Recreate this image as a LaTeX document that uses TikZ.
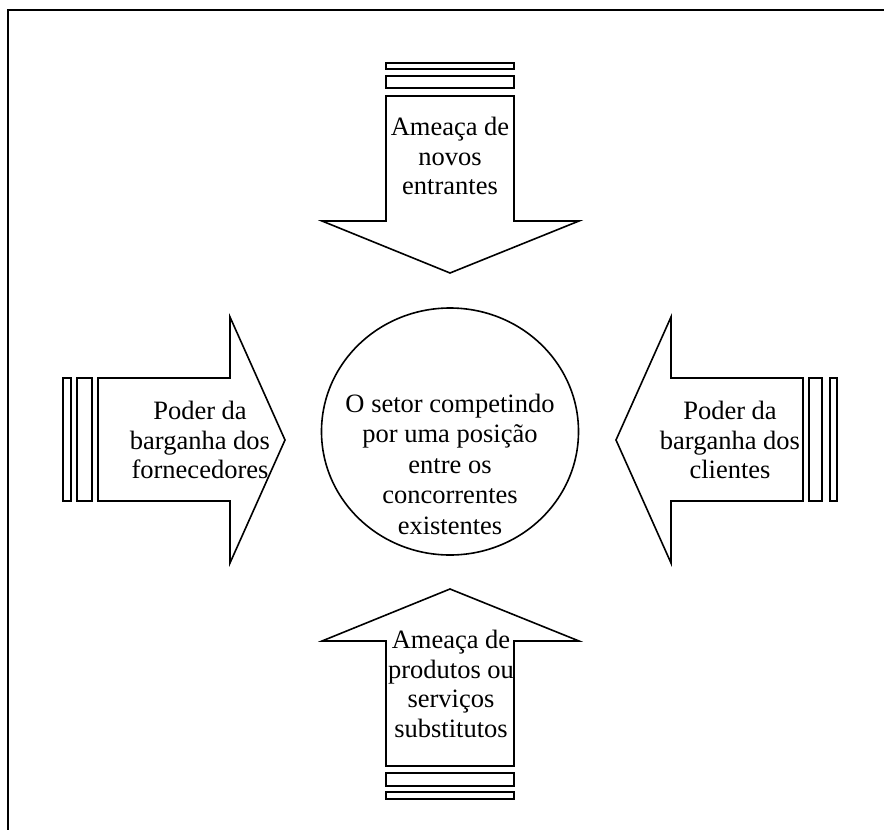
\documentclass[tikz,border=0pt]{standalone}
\usepackage{fontspec}
\setmainfont{Liberation Serif}
\begin{document}
\begin{tikzpicture}[x=1pt,y=-1pt,
  shp/.style={draw=black,line width=1.6pt,line join=miter,fill=white},
  lbl/.style={align=center,inner sep=0pt,font=\fontsize{26.5}{29.5}\selectfont}]
\useasboundingbox (0,0) rectangle (884,830);
% frame
\draw[line width=1.6pt] (8,830) -- (8,10) -- (884,10);
% top arrow
\draw[shp] (386,63) rectangle (514,69);
\draw[shp] (386,76) rectangle (514,88);
\draw[shp] (386,96) -- (514,96) -- (514,221) -- (579,221) -- (450,273) -- (322,221) -- (386,221) -- cycle;
\node[lbl] (top) at (450,156) {Ameaça de\\novos\\entrantes};
% bottom arrow
\draw[shp] (386,792) rectangle (514,799);
\draw[shp] (386,773) rectangle (514,786);
\draw[shp] (386,766) -- (514,766) -- (514,641) -- (579,641) -- (450,589) -- (322,641) -- (386,641) -- cycle;
\node[lbl] (bottom) at (451,684) {Ameaça de\\produtos ou\\serviços\\substitutos};
% left arrow
\draw[shp] (63,378) rectangle (71,501);
\draw[shp] (77,378) rectangle (92,501);
\draw[shp] (98,378) -- (230,378) -- (230,317) -- (285,440) -- (230,563) -- (230,501) -- (98,501) -- cycle;
\node[lbl] (left) at (200,440) {Poder da\\barganha dos\\fornecedores};
% right arrow
\draw[shp] (830,378) rectangle (837,501);
\draw[shp] (809,378) rectangle (822,501);
\draw[shp] (803,378) -- (671,378) -- (671,317) -- (616,440) -- (671,563) -- (671,501) -- (803,501) -- cycle;
\node[lbl] (right) at (730,440) {Poder da\\barganha dos\\clientes};
% center ellipse
\draw[shp] (450,431.5) ellipse [x radius=128.5, y radius=123.5];
\node[lbl,font=\fontsize{26.5}{30.5}\selectfont] (center) at (450,464) {O setor competindo\\por uma posição\\entre os\\concorrentes\\existentes};
\end{tikzpicture}
\end{document}
